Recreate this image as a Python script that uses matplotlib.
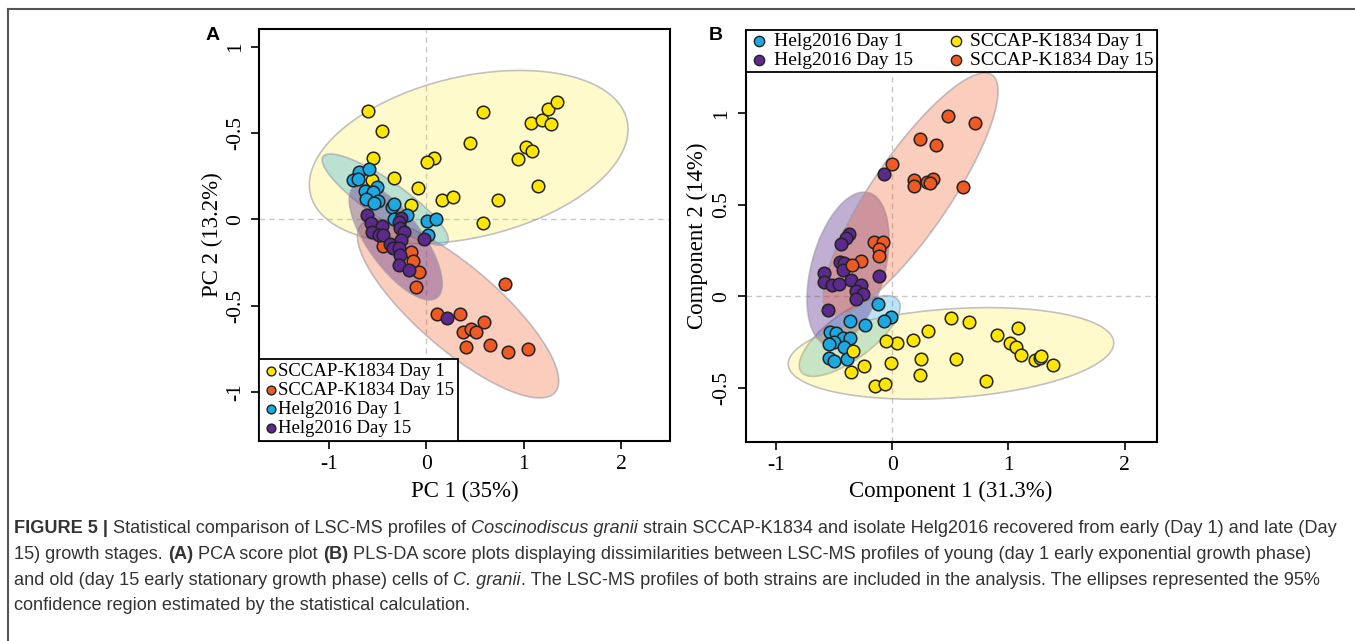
import numpy as np
import matplotlib
matplotlib.use("Agg")
import matplotlib.pyplot as plt
from matplotlib import font_manager
from matplotlib.transforms import IdentityTransform

# ---- panel A: PCA scores ----
a_sccap1_x = [-0.594, -0.454, -0.546, 0.577, 1.068, 1.188, 1.249, 1.338, 1.276, 0.447, 1.020, 1.085,
              0.942, 0.078, 0.003, -0.331, -0.089, 0.160, 0.270, 0.730, 1.143, 0.584, -0.560, -0.157]
a_sccap1_y = [0.625, 0.512, 0.353, 0.620, 0.560, 0.575, 0.639, 0.680, 0.552, 0.440, 0.417, 0.396,
              0.351, 0.355, 0.330, 0.241, 0.181, 0.110, 0.129, 0.112, 0.191, -0.019, 0.228, 0.081]
a_sccap15_x = [-0.440, -0.154, -0.137, -0.078, -0.102, 0.802, 0.109, 0.345, 0.587, 0.372, 0.461,
               0.509, 0.403, 0.648, 0.840, 1.044]
a_sccap15_y = [-0.153, -0.187, -0.243, -0.307, -0.390, -0.376, -0.546, -0.548, -0.598, -0.654, -0.637,
               -0.654, -0.739, -0.730, -0.770, -0.751]
a_helg1_x = [-0.686, -0.587, -0.747, -0.696, -0.502, -0.628, -0.549, -0.621, -0.498, -0.536, -0.355,
             -0.334, -0.201, -0.328, 0.007, 0.099, 0.014]
a_helg1_y = [0.272, 0.290, 0.230, 0.234, 0.185, 0.166, 0.160, 0.116, 0.106, 0.095, 0.073,
             0.089, 0.023, 0.002, -0.010, 0.000, -0.089]
a_helg15_x = [-0.608, -0.567, -0.457, -0.556, -0.481, -0.444, -0.259, -0.280, -0.270, -0.229, -0.259,
              -0.372, -0.345, -0.280, -0.273, -0.280, -0.181, -0.020, 0.215]
a_helg15_y = [0.027, -0.023, -0.039, -0.073, -0.091, -0.091, 0.006, -0.017, -0.048, -0.075, -0.122,
              -0.143, -0.168, -0.164, -0.207, -0.264, -0.293, -0.112, -0.573]

# ---- panel B: PLS-DA scores ----
b_sccap1_x = [0.501, 0.659, 1.086, 0.309, 0.897, 1.014, 1.063, 1.106, 0.181, 0.037, -0.054, -0.341,
              -0.246, -0.355, -0.014, 0.249, 0.544, 0.235, 0.808, -0.149, -0.063, 1.226, 1.272, 1.278, 1.381]
b_sccap1_y = [-0.120, -0.142, -0.173, -0.189, -0.213, -0.253, -0.275, -0.319, -0.239, -0.253, -0.242, -0.299,
              -0.379, -0.412, -0.366, -0.344, -0.342, -0.430, -0.463, -0.490, -0.479, -0.348, -0.339, -0.326, -0.377]
b_sccap15_x = [0.476, 0.711, 0.241, 0.375, -0.003, 0.183, 0.186, 0.301, 0.347, 0.327, 0.610,
               -0.155, -0.077, -0.117, -0.115, -0.266, -0.344]
b_sccap15_y = [0.984, 0.947, 0.860, 0.825, 0.725, 0.634, 0.605, 0.625, 0.641, 0.617, 0.596,
               0.295, 0.299, 0.259, 0.222, 0.195, 0.168]
b_helg1_x = [-0.120, -0.009, -0.074, -0.235, -0.361, -0.539, -0.481, -0.424, -0.361, -0.499, -0.547,
             -0.418, -0.547, -0.499, -0.390]
b_helg1_y = [-0.044, -0.115, -0.137, -0.157, -0.138, -0.193, -0.199, -0.230, -0.230, -0.248, -0.260,
             -0.279, -0.339, -0.352, -0.344]
b_helg15_x = [-0.074, -0.372, -0.395, -0.438, -0.447, -0.413, -0.424, -0.590, -0.585, -0.516, -0.458,
              -0.352, -0.272, -0.309, -0.255, -0.309, -0.115, -0.550]
b_helg15_y = [0.670, 0.341, 0.317, 0.286, 0.188, 0.184, 0.144, 0.126, 0.078, 0.062, 0.067,
              0.089, 0.060, 0.029, 0.013, -0.015, 0.113, -0.075]

labels = {"s1": "SCCAP-K1834 Day 1", "s15": "SCCAP-K1834 Day 15",
          "h1": "Helg2016 Day 1", "h15": "Helg2016 Day 15"}
colors = {"s1": "#FFE600", "s15": "#EF5A22", "h1": "#1CA8E0", "h15": "#5B2A8C"}
fill_alpha = {"s1": 0.2, "s15": 0.3, "h1": 0.3, "h15": 0.38}

serif = "Liberation Serif"
names = {f.name for f in font_manager.fontManager.ttflist}
cap_family = "Liberation Sans Narrow" if "Liberation Sans Narrow" in names else "Liberation Sans"

W, H = 1355, 641
fig = plt.figure(figsize=(W / 100, H / 100), dpi=100)


def ell(ax, x, y, key, k=2.4477):
    # 95% normal confidence ellipse from the group's scores
    x = np.asarray(x); y = np.asarray(y)
    vals, vecs = np.linalg.eigh(np.cov(x, y))
    t = np.linspace(0, 2 * np.pi, 200)
    p = vecs @ (np.vstack([np.cos(t), np.sin(t)]) * (k * np.sqrt(vals))[:, None])
    ax.fill(x.mean() + p[0], y.mean() + p[1], facecolor=colors[key], alpha=fill_alpha[key], lw=0, zorder=2)
    ax.plot(x.mean() + p[0], y.mean() + p[1], color="#9a9aa4", alpha=0.6, lw=1.2, zorder=2)


def pts(ax, x, y, key):
    ax.scatter(x, y, s=82, c=colors[key], edgecolors="#222222", linewidths=1.1, zorder=3)


def style(ax, xlim, ylim, yt, ytl, xlab, ylab, xlab_y, ylab_x):
    ax.set_xlim(*xlim); ax.set_ylim(*ylim)
    ax.axvline(0, color="#c8c8c8", ls=(0, (4, 3)), lw=1, zorder=1)
    ax.axhline(0, color="#c8c8c8", ls=(0, (4, 3)), lw=1, zorder=1)
    ax.set_xticks([-1, 0, 1, 2])
    ax.set_xticklabels(["-1", "0", "1", "2"], fontfamily=serif, fontsize=15.5)
    ax.set_yticks(yt)
    ax.set_yticklabels(ytl, fontfamily=serif, fontsize=15.5, rotation=90, va="center")
    ax.tick_params(direction="out", length=6, width=1.2, pad=4)
    for s in ax.spines.values():
        s.set_linewidth(1.5)
    ax.set_xlabel(xlab, fontfamily=serif, fontsize=16.5)
    ax.set_ylabel(ylab, fontfamily=serif, fontsize=16.5)
    ax.xaxis.label.set_va("center")
    ax.yaxis.label.set_va("center")
    ax.xaxis.set_label_coords(0.5, xlab_y)
    ax.yaxis.set_label_coords(ylab_x, 0.5)


# panel A
axA = fig.add_axes([259.3 / W, 1 - 440.7 / H, 410.2 / W, 411.4 / H])
groupsA = [("s1", a_sccap1_x, a_sccap1_y), ("s15", a_sccap15_x, a_sccap15_y),
           ("h1", a_helg1_x, a_helg1_y), ("h15", a_helg15_x, a_helg15_y)]
for key, x, y in groupsA:
    ell(axA, x, y, key)
    pts(axA, x, y, key)
style(axA, (-1.711, 2.492), (-1.283, 1.101), [1, 0.5, 0, -0.5, -1],
      ["1", "-0.5", "0", "-0.5", "-1"], "PC 1 (35%)", "PC 2 (13.2%)", -0.124, -0.113)
hA = [axA.scatter([], [], s=40, c=colors[k], edgecolors="#222222", linewidths=1.0, label=labels[k])
      for k in ["s1", "s15", "h1", "h15"]]
legA = axA.legend(handles=hA, loc="lower left", bbox_to_anchor=(0, 0), borderaxespad=0,
                  prop={"family": serif, "size": 13.5}, handletextpad=0.0, handlelength=0.8,
                  labelspacing=0.1, borderpad=0.2, fancybox=False, framealpha=1)
legA.get_frame().set_edgecolor("black")
legA.get_frame().set_linewidth(1.3)
legA.set_zorder(5)
fig.text(213 / W, 1 - 35 / H, "A", fontfamily="Liberation Sans", fontweight="bold", fontsize=14,
         ha="center", va="center")

# panel B
axB = fig.add_axes([745.5 / W, 1 - 441.7 / H, 411.2 / W, 411.0 / H])
ell(axB, b_helg1_x, b_helg1_y, "h1")
pts(axB, b_helg1_x, b_helg1_y, "h1")
ell(axB, b_helg15_x, b_helg15_y, "h15")
ell(axB, b_sccap1_x, b_sccap1_y, "s1")
ell(axB, b_sccap15_x, b_sccap15_y, "s15")
pts(axB, b_helg15_x, b_helg15_y, "h15")
pts(axB, b_sccap1_x, b_sccap1_y, "s1")
pts(axB, b_sccap15_x, b_sccap15_y, "s15")
style(axB, (-1.264, 2.276), (-0.795, 1.451), [-0.5, 0, 0.5, 1],
      ["-0.5", "0", "0.5", "1"], "Component 1 (31.3%)", "Component 2 (14%)", -0.122, -0.118)
hB = [axB.scatter([], [], s=55, c=colors[k], edgecolors="#222222", linewidths=1.0, label=labels[k])
      for k in ["h1", "h15", "s1", "s15"]]
legB = axB.legend(handles=hB, loc="lower left", bbox_to_anchor=(0, 1 - 41 / 411, 1, 41 / 411),
                  mode="expand", ncol=2, borderaxespad=0, prop={"family": serif, "size": 14},
                  handletextpad=0.2, handlelength=1.1, labelspacing=0.05, borderpad=0.15,
                  columnspacing=1.0, fancybox=False, framealpha=1)
legB.get_frame().set_edgecolor("black")
legB.get_frame().set_linewidth(1.3)
legB.set_zorder(5)
fig.text(716 / W, 1 - 35 / H, "B", fontfamily="Liberation Sans", fontweight="bold", fontsize=14,
         ha="center", va="center")

# outer frame (top and left)
fig.add_artist(plt.Line2D([8 / W, 1], [1 - 8.7 / H, 1 - 8.7 / H], transform=fig.transFigure,
                          color="#555555", lw=1.5))
fig.add_artist(plt.Line2D([8 / W, 8 / W], [0, 1 - 8.7 / H], transform=fig.transFigure,
                          color="#555555", lw=1.5))

# caption, drawn run by run so bold / italic parts stay in place
caption = [
    [("FIGURE 5 |", "bold", "normal"), (" Statistical comparison of LSC-MS profiles of ", "normal", "normal"),
     ("Coscinodiscus granii", "normal", "italic"),
     (" strain SCCAP-K1834 and isolate Helg2016 recovered from early (Day 1) and late (Day", "normal", "normal")],
    [("15) growth stages. ", "normal", "normal"), ("(A)", "bold", "normal"), (" PCA score plot ", "normal", "normal"),
     ("(B)", "bold", "normal"),
     (" PLS-DA score plots displaying dissimilarities between LSC-MS profiles of young (day 1 early exponential growth phase)",
      "normal", "normal")],
    [("and old (day 15 early stationary growth phase) cells of ", "normal", "normal"), ("C. granii", "normal", "italic"),
     (". The LSC-MS profiles of both strains are included in the analysis. The ellipses represented the 95%",
      "normal", "normal")],
    [("confidence region estimated by the statistical calculation.", "normal", "normal")],
]
cap_y = [533, 559, 585, 610]
renderer = fig.canvas.get_renderer()


def width(s, size, weight, st):
    t = fig.text(0, 0, s.replace(" ", "\u00a0") + "|", fontfamily=cap_family, fontsize=size,
                 fontweight=weight, fontstyle=st, transform=IdentityTransform())
    t2 = fig.text(0, 0, "|", fontfamily=cap_family, fontsize=size, fontweight=weight, fontstyle=st,
                  transform=IdentityTransform())
    w = t.get_window_extent(renderer).width - t2.get_window_extent(renderer).width
    t.remove(); t2.remove()
    return w


size = 12.0
w0 = sum(width(s, size, wt, st) for s, wt, st in caption[0])
size = size * 1322 / w0

for line, yy in zip(caption, cap_y):
    x = 14
    for s, wt, st in line:
        fig.text(x, H - yy, s, fontfamily=cap_family, fontsize=size, fontweight=wt, fontstyle=st,
                 color="#333333", transform=IdentityTransform(), va="baseline", ha="left")
        x += width(s, size, wt, st)

fig.savefig("out.png", dpi=100)
